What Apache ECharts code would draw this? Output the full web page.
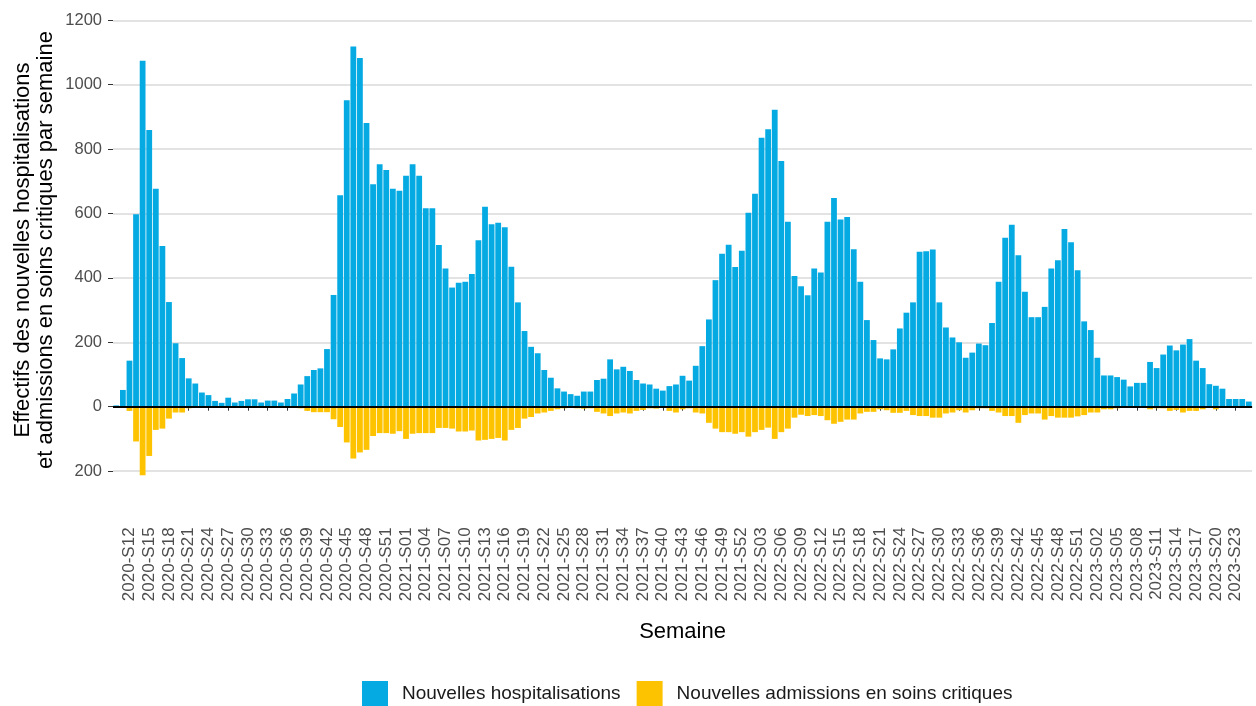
<!DOCTYPE html>
<html><head><meta charset="utf-8">
<script src="https://cdn.jsdelivr.net/npm/echarts@6/dist/echarts.min.js"></script>
<style>html,body{margin:0;padding:0;background:#fff}#c{width:1256px;height:706px}</style>
</head><body><div id="c"></div>
<script>
// Weekly values (2020-S10 ... 2023-S25)
const years = [2020, 2021, 2022, 2023];
const firstWeek = [10, 1, 1, 1];

const hosp2020 = [4,52,143,598,1074,859,677,499,325,197,151,88,72,44,36,18,12,28,13,18,23,23,13,19,19,13,24,41,69,95,114,119,179,347,657,952,1119,1083,881,691,753,735,677,671];
const hosp2021 = [717,753,717,616,616,502,429,370,385,388,412,517,621,567,571,557,435,324,235,186,166,114,90,57,47,39,34,47,47,83,87,147,116,124,111,83,72,69,56,50,64,69,96,81,127,188,271,393,475,503,434,484];
const hosp2022 = [602,661,835,862,922,763,574,406,374,346,429,417,574,648,581,589,489,388,269,207,150,147,178,243,292,324,481,483,488,324,246,215,200,152,168,196,191,260,388,525,565,470,357,278,278,310,429,455,552,511,424,265];
const hosp2023 = [238,152,97,97,92,84,63,74,74,139,120,162,190,175,193,210,143,120,70,65,56,24,24,24,16];

const crit2020 = [0,2,13,108,213,153,72,68,37,18,18,5,3,2,1,1,0,1,0,1,1,1,0,1,1,0,1,2,5,13,17,17,17,39,63,111,161,142,134,91,82,82,84,76];
const crit2021 = [100,84,82,82,82,66,66,68,77,77,74,105,103,100,97,105,72,66,37,32,21,18,13,8,5,4,5,6,5,16,21,29,21,18,21,13,10,5,6,4,13,18,8,5,18,21,50,68,79,79,84,79];
const crit2022 = [93,79,72,65,100,79,68,34,25,29,26,29,42,53,47,40,40,21,16,16,8,11,19,19,13,26,29,29,34,34,21,18,11,18,11,5,5,13,18,29,29,50,26,21,21,40,29,34,34,34,30,26];
const crit2023 = [18,18,8,8,5,4,3,3,4,8,5,5,13,10,18,13,13,8,3,8,3,2,2,2,1];

const yTicks = [-200, 0, 200, 400, 600, 800, 1000, 1200];
const labelStart = 2;   // first labelled week: 2020-S12
const labelStep = 3;

const seriesNames = ['Nouvelles hospitalisations', 'Nouvelles admissions en soins critiques'];
const yTitle = 'Effectifs des nouvelles hospitalisations\net admissions en soins critiques par semaine';
const xTitle = 'Semaine';

const hospYears = [hosp2020, hosp2021, hosp2022, hosp2023];
const categories = [];
years.forEach((y, i) => {
  hospYears[i].forEach((_, k) => {
    categories.push(y + '-S' + String(firstWeek[i] + k).padStart(2, '0'));
  });
});
const hosp = [].concat(hosp2020, hosp2021, hosp2022, hosp2023);
const crit = [].concat(crit2020, crit2021, crit2022, crit2023).map(v => -v);

const FONT = 'Liberation Sans, Arial, sans-serif';
const BLUE = '#05AAE3';
const YELLOW = '#FEC300';
const showLabel = (idx) => idx >= labelStart && (idx - labelStart) % labelStep === 0;

const chart = echarts.init(document.getElementById('c'), null, {renderer: 'canvas'});
chart.setOption({
  animation: false,
  backgroundColor: '#fff',
  textStyle: {fontFamily: FONT},
  grid: {left: 113, right: 3.9, top: 20.3, bottom: 186.6, containLabel: false},
  legend: {
    left: 362, top: 681, padding: 0, itemWidth: 26, itemHeight: 26, itemGap: 16, icon: 'rect',
    textStyle: {fontSize: 19, color: '#1a1a1a', fontFamily: FONT, padding: [0, 0, 0, 9]},
    data: seriesNames
  },
  xAxis: {
    type: 'category', data: categories, boundaryGap: true,
    axisLine: {show: false},
    axisTick: {show: true, alignWithLabel: true, interval: (i) => showLabel(i), length: 4, lineStyle: {color: '#333', width: 1}},
    axisLabel: {interval: (i) => showLabel(i), rotate: 90, margin: 8, fontSize: 17, color: '#4d4d4d', fontFamily: FONT},
    splitLine: {show: false},
    name: xTitle, nameLocation: 'middle', nameGap: 102,
    nameTextStyle: {fontSize: 22, color: '#000', fontFamily: FONT}
  },
  yAxis: {
    type: 'value', min: -350, max: 1200,
    axisLine: {show: false},
    axisTick: {show: true, length: 5, customValues: yTicks, lineStyle: {color: '#333'}},
    axisLabel: {customValues: yTicks, formatter: (v) => String(Math.abs(v)), fontSize: 16.5, color: '#4d4d4d', margin: 11, fontFamily: FONT},
    splitLine: {show: true, lineStyle: {color: '#dadada', width: 1.5}}
  },
  graphic: [{
    type: 'text', x: 34, y: 250, rotation: Math.PI / 2,
    style: {text: yTitle, textAlign: 'center', textVerticalAlign: 'middle', fontSize: 22, lineHeight: 23, fill: '#000', fontFamily: FONT}
  }],
  series: [
    {name: seriesNames[0], type: 'bar', data: hosp, itemStyle: {color: BLUE}, barCategoryGap: '12%', barGap: '-100%'},
    {name: seriesNames[1], type: 'bar', data: crit, itemStyle: {color: YELLOW}, barCategoryGap: '12%', barGap: '-100%',
     markLine: {silent: true, symbol: 'none', data: [{yAxis: 0}], label: {show: false},
       lineStyle: {color: '#000', width: 1.8, type: 'solid'}}}
  ]
});
</script></body></html>
